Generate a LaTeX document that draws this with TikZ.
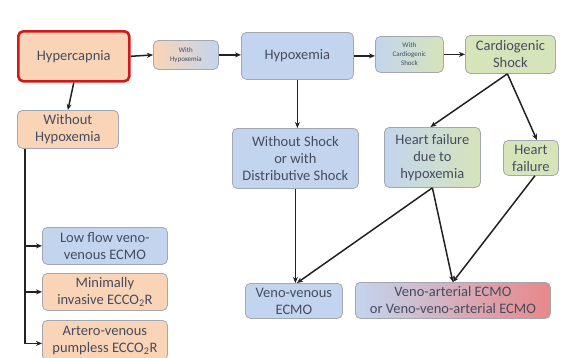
\documentclass[tikz,border=0pt]{standalone}
\usepackage{fontspec}
\setmainfont{Carlito}
\usetikzlibrary{arrows.meta,calc}
\definecolor{peach}{HTML}{FAD4B6}
\definecolor{lblue}{HTML}{C3D5EE}
\definecolor{lgreen}{HTML}{D6E4BA}
\definecolor{lred}{HTML}{E9878A}
\definecolor{bordergray}{HTML}{A3A8B0}
\definecolor{txt}{HTML}{454C60}
\definecolor{arrowc}{HTML}{222222}
\tikzset{
  box/.style={draw=bordergray, line width=0.8pt, rounded corners=5pt, anchor=north west,
    inner sep=1pt, align=center, text=txt, font=\fontsize{14.5}{17}\selectfont},
  small/.style={font=\fontsize{7}{9}\selectfont},
  arr/.style={draw=arrowc, line width=1.5pt, -{Stealth[length=6pt,width=5pt]}},
}
\begin{document}
\begin{tikzpicture}[x=1pt,y=-1pt]
\useasboundingbox[fill=white] (0,0) rectangle (561,357);
% top row
\node[box, fill=peach, draw=red!80!black!90, line width=2.6pt, minimum width=111pt, minimum height=50pt] (hyper) at (17,30) {Hypercapnia};
\node[box, small, left color=peach, right color=lblue, minimum width=65pt, minimum height=29pt] (withhyp) at (153,40) {With\\Hypoxemia};
\node[box, fill=lblue, minimum width=112pt, minimum height=47pt] (hypox) at (241,32) {Hypoxemia};
\node[box, small, left color=lblue, right color=lgreen, minimum width=68pt, minimum height=36pt] (withcard) at (375,36) {With\\Cardiogenic\\Shock};
\node[box, fill=lgreen, minimum width=90pt, minimum height=38pt] (cardio) at (465,35) {Cardiogenic\\Shock};
% middle
\node[box, fill=peach, minimum width=101pt, minimum height=38pt] (wohyp) at (17,110) {Without\\Hypoxemia};
\node[box, fill=lblue, minimum width=126pt, minimum height=60pt] (without) at (232,128) {Without Shock\\or with\\Distributive Shock};
\node[box, left color=lblue, right color=lgreen, minimum width=96pt, minimum height=60pt] (hfhyp) at (384,127) {Heart failure\\due to\\hypoxemia};
\node[box, fill=lgreen, minimum width=55pt, minimum height=35pt] (hf) at (503,140) {Heart\\failure};
% left column
\node[box, fill=lblue, minimum width=125pt, minimum height=37pt] (lowflow) at (42,227) {Low flow veno-\\venous ECMO};
\node[box, fill=peach, minimum width=125pt, minimum height=37pt] (mini) at (42,273) {Minimally\\invasive ECCO\textsubscript{2}R};
\node[box, fill=peach, minimum width=125pt, minimum height=40pt] (artero) at (42,320) {Artero-venous\\pumpless ECCO\textsubscript{2}R};
% bottom
\node[box, fill=lblue, minimum width=97pt, minimum height=35pt] (vv) at (245,283) {Veno-venous\\ECMO};
\node[box, left color=lblue, right color=lred, minimum width=195pt, minimum height=36pt] (va) at (355,282) {Veno-arterial ECMO\\or Veno-veno-arterial ECMO};
% arrows top row
\draw[arr] (hyper.east) -- (withhyp.west);
\draw[arr] (withhyp.east) -- (withhyp.east -| hypox.west);
\draw[arr] (hypox.east) -- (hypox.east -| withcard.west);
\draw[arr] (withcard.east) -- (withcard.east -| cardio.west);
\draw[arr] (hyper.south) -- (wohyp.north);
% left trunk
\coordinate (trunk) at ($(wohyp.south west)+(8,0)$);
\draw[arr] (trunk) |- ($(artero.west)+(0,3)$);
\draw[arr] (trunk |- lowflow.west) -- (lowflow.west);
\draw[arr] (trunk |- mini.west) -- (mini.west);
% middle
\draw[arr] (hypox.south) -- (hypox.south |- without.north);
\draw[arr] (without.south) -- ($(without.south |- vv.north)$);
\draw[arr] ($(cardio.south)+(-3,0)$) -- ($(hfhyp.north)+(-2,0)$);
\draw[arr] ($(cardio.south)+(-3,0)$) -- ($(hf.north)+(6,0)$);
\draw[arr] (hfhyp.south) -- ($(vv.north)+(3,0)$);
\draw[arr] (hfhyp.south) -- (va.north);
\draw[arr] ($(hf.south)+(4,0)$) -- (va.north);
\end{tikzpicture}
\end{document}
